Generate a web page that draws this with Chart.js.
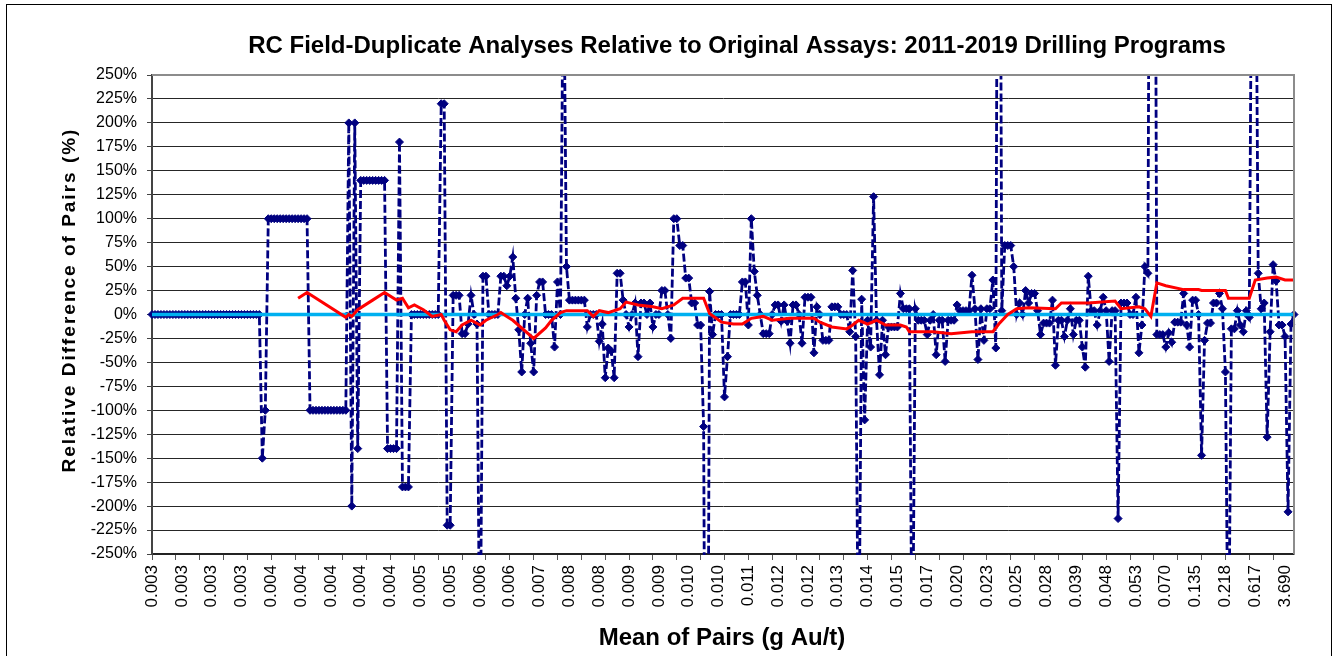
<!DOCTYPE html>
<html>
<head>
<meta charset="utf-8">
<title>RC Field-Duplicate Analyses</title>
<script src="https://cdn.jsdelivr.net/npm/chart.js@4.4.1/dist/chart.umd.min.js"></script>
<style>
  html, body { margin: 0; padding: 0; background: #fff; }
  #chart { display: block; }
</style>
</head>
<body>
<canvas id="chart" width="1338" height="656"></canvas>
<script>
// mean of pairs (g Au/t), one label every 10th pair
const tickLabels = [
  '0.003', '0.003', '0.003', '0.003', '0.004', '0.004', '0.004', '0.004', '0.004', '0.005',
  '0.005', '0.006', '0.006', '0.007', '0.008', '0.008', '0.009', '0.009', '0.010', '0.010',
  '0.011', '0.012', '0.012', '0.013', '0.014', '0.015', '0.017', '0.020', '0.023', '0.025',
  '0.028', '0.039', '0.048', '0.053', '0.070', '0.135', '0.218', '0.617', '3.690'
];

// relative difference of each duplicate pair (%), sorted by mean of pair
const relDiff = [
  0, 0, 0, 0, 0, 0, 0, 0, 0, 0,
  0, 0, 0, 0, 0, 0, 0, 0, 0, 0,
  0, 0, 0, 0, 0, 0, 0, 0, 0, 0,
  0, 0, 0, 0, 0, 0, 0, -150, -100, 100,
  100, 100, 100, 100, 100, 100, 100, 100, 100, 100,
  100, 100, 100, -100, -100, -100, -100, -100, -100, -100,
  -100, -100, -100, -100, -100, -100, 200, -200, 200, -140,
  140, 140, 140, 140, 140, 140, 140, 140, 140, -140,
  -140, -140, -140, 180, -180, -180, -180, 0, 0, 0,
  0, 0, 0, 0, 0, 0, 0, 220, 220, -220,
  -220, 20, 20, 20, -20, -20, -10, 20, 0, -10,
  -400, 40, 40, 0, 0, 0, 0, 40, 40, 30,
  40, 60, 17, -16, -60, 0, 17, -30, -60, 20,
  34, 34, 0, 0, 0, -34, 34, 0, 400, 50,
  15, 15, 15, 15, 15, 15, -13, 0, 0, 0,
  -28, -10, -66, -35, -38, -66, 43, 43, 15, 0,
  -13, 0, 12, -44, 12, 12, 0, 12, -13, 0,
  0, 25, 25, 0, -25, 100, 100, 72, 72, 38,
  38, 12, 12, -11, -11, -117, -800, 24, -21, 0,
  0, 0, -86, -44, 0, 0, 0, 0, 34, 34,
  -11, 100, 45, 20, 0, -20, -20, -20, 0, 10,
  10, -7, 10, -7, -30, 10, 10, 0, -30, 18,
  18, 18, -40, 8, 0, -27, -27, -27, 8, 8,
  8, 0, 0, 0, -18, 46, -23, -400, 16, -110,
  -6, -34, 123, -6, -63, -6, -42, -13, -13, -13,
  -13, 22, 6, 6, 6, -400, 6, -6, -6, -6,
  -21, -6, 0, -42, -6, -6, -49, -6, -6, -6,
  10, 4, 4, 4, 4, 41, 6, -47, 6, -27,
  6, 6, 36, -35, 900, 4, 72, 72, 72, 50,
  0, 12, 0, 25, 12, 22, 22, 4, -21, -9,
  -9, -9, 15, -53, -6, -6, -23, -6, 6, -21,
  -6, -6, -34, -55, 40, 4, 4, -11, 4, 18,
  4, -49, 4, 4, -213, 12, 12, 12, 0, 0,
  18, -40, -11, 50, 43, 900, 900, -21, -21, -21,
  -34, -19, -29, -8, -8, -8, 22, -11, -34, 15,
  15, 0, -147, -27, -9, -9, 12, 12, 22, 6,
  -60, -400, -15, -15, 4, -11, -18, 4, -3, 500,
  500, 43, 6, 12, -128, -18, 52, 35, -11, -11,
  -23, -206, -10, 0
];

// 50-pair moving average (%), at the pair index where it changes course
const avgIndex = [
  49, 52, 65, 66, 67, 69, 74, 78, 82, 84, 86, 88, 91, 94, 97, 98, 100, 102, 104, 107,
  110, 112, 116, 117, 119, 121, 128, 132, 134, 137, 139, 146, 148, 150, 153, 157, 159, 163, 168, 171,
  175, 178, 185, 187, 191, 195, 198, 201, 205, 208, 214, 222, 224, 228, 233, 235, 237, 240, 243, 246,
  251, 253, 254, 262, 268, 275, 282, 284, 287, 290, 294, 303, 305, 314, 323, 325, 331, 333, 335, 337,
  340, 346, 351, 352, 360, 361, 368, 370, 374, 377, 380, 383
];
const avgValue = [
  17, 23, -3, 0, -2, 5, 15, 23, 15, 17, 7, 10, 5, -2, 0, -6, -16, -18, -11, -6,
  -11, -6, 0, 2, -2, -6, -25, -14, -6, 2, 4, 4, -2, 4, 2, 6, 13, 10, 8, 6,
  10, 17, 17, 1, -8, -10, -10, -4, -2, -6, -4, -4, -8, -13, -15, -11, -6, -10, -6, -11,
  -11, -13, -18, -18, -20, -18, -18, -10, 0, 6, 7, 6, 12, 12, 14, 6, 8, 6, -2, 33,
  30, 26, 26, 25, 25, 17, 17, 36, 38, 39, 36, 36
];

const NAVY = '#000080';
const FONT = '"Liberation Sans", Arial, sans-serif';

// titles, plot border and outer frame
const chartText = {
  id: 'chartText',
  afterDraw(chart) {
    const { ctx, chartArea: a } = chart;
    ctx.save();
    ctx.strokeStyle = '#8c8c8c';
    ctx.lineWidth = 2;
    ctx.beginPath();
    ctx.moveTo(a.left, a.top);
    ctx.lineTo(a.right, a.top);
    ctx.lineTo(a.right, a.bottom);
    ctx.stroke();

    ctx.strokeStyle = '#000';
    ctx.lineWidth = 1;
    ctx.strokeRect(6.5, 4.5, 1325, 700);

    ctx.fillStyle = '#000';
    ctx.textAlign = 'center';
    ctx.textBaseline = 'middle';
    ctx.font = 'bold 24px ' + FONT;
    ctx.fillText('RC Field-Duplicate Analyses Relative to Original Assays: 2011-2019 Drilling Programs', 737, 46);
    ctx.fillText('Mean of Pairs (g Au/t)', 722, 638);

    ctx.translate(70, 300);
    ctx.rotate(-Math.PI / 2);
    ctx.font = 'bold 19px ' + FONT;
    ctx.letterSpacing = '2px';
    ctx.fillText('Relative Difference of Pairs (%)', 0, 0);
    ctx.restore();
  }
};

new Chart(document.getElementById('chart'), {
  type: 'line',
  data: {
    datasets: [
      {
        label: 'Moving average',
        data: avgIndex.map((x, i) => ({ x, y: avgValue[i] })),
        borderColor: '#ff0000',
        borderWidth: 3,
        pointRadius: 0,
        order: 0
      },
      {
        label: 'Zero',
        data: [{ x: 0, y: 0 }, { x: relDiff.length - 1, y: 0 }],
        borderColor: '#00b0f0',
        borderWidth: 3.5,
        pointRadius: 0,
        order: 1
      },
      {
        label: 'Relative difference',
        data: relDiff.map((y, x) => ({ x, y })),
        borderColor: NAVY,
        borderWidth: 2.8,
        borderDash: [8, 3],
        pointStyle: 'rectRot',
        pointRadius: 4,
        pointBackgroundColor: NAVY,
        pointBorderColor: NAVY,
        pointBorderWidth: 1,
        clip: { left: 5, right: 5, top: 1, bottom: 1 },
        order: 2
      }
    ]
  },
  options: {
    responsive: false,
    animation: false,
    devicePixelRatio: 1,
    layout: { padding: { left: 90, right: 44, top: 75, bottom: 0 } },
    elements: { line: { tension: 0 } },
    plugins: {
      legend: { display: false },
      tooltip: { enabled: false }
    },
    scales: {
      x: {
        type: 'linear',
        min: 0,
        max: relDiff.length - 1,
        afterBuildTicks(scale) {
          const values = [];
          for (let v = 0; v < relDiff.length; v += 2) {
            if (v % 8 === 0 || v % 10 === 0) values.push(v);
          }
          scale.ticks = values.map(value => ({ value }));
        },
        afterFit(scale) { scale.height = 102; },
        grid: {
          drawOnChartArea: false,
          tickLength: 6,
          color: ctx => (ctx.tick && ctx.tick.value % 8 === 0 ? '#555' : 'rgba(0,0,0,0)')
        },
        border: { color: '#222', width: 1.5 },
        ticks: {
          autoSkip: false,
          minRotation: 90,
          maxRotation: 90,
          padding: 5,
          color: '#000',
          font: { family: FONT, size: 17 },
          callback: v => (v % 10 === 0 ? tickLabels[v / 10] : '')
        }
      },
      y: {
        min: -250,
        max: 250,
        afterFit(scale) { scale.width = 62; },
        grid: {
          tickLength: 5,
          color: ctx => (ctx.tick && ctx.tick.value === 250 ? '#8c8c8c' : '#262626'),
          tickColor: '#444'
        },
        border: { color: '#444', width: 2 },
        ticks: {
          stepSize: 25,
          padding: 10,
          color: '#000',
          font: { family: FONT, size: 16 },
          callback: v => v + '%'
        }
      }
    }
  },
  plugins: [chartText]
});
</script>
</body>
</html>
